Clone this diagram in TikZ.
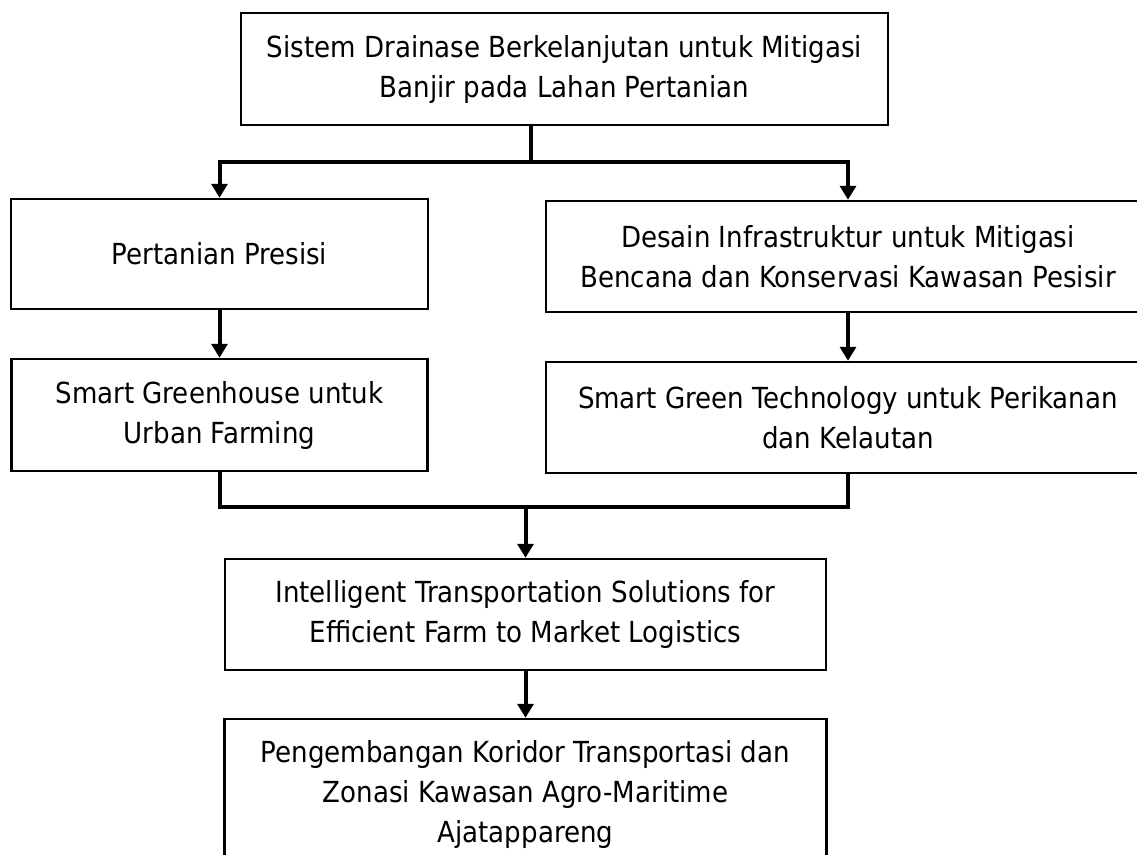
\documentclass[tikz,border=0pt]{standalone}
\usepackage{fontspec}
\setmainfont{DejaVu Sans Condensed}
\usetikzlibrary{arrows.meta}
\tikzset{
  box/.style={draw=black, line width=2.5pt, fill=white, rectangle, inner sep=0pt,
    align=center, font=\fontsize{29}{40}\selectfont, text=black},
  conn/.style={draw=black, line width=4pt},
  arr/.style={conn, -{Triangle[length=14pt,width=16pt]}},
}
\begin{document}
\begin{tikzpicture}[x=1pt,y=-1pt]
\useasboundingbox[fill=white] (0,0) rectangle (1137,854);
\node[box, minimum width=647pt, minimum height=112pt] (top) at (564.5,69)
  {Sistem Drainase Berkelanjutan untuk Mitigasi\\Banjir pada Lahan Pertanian};
\node[box, minimum width=417pt, minimum height=110pt] (l1) at (219.5,254)
  {Pertanian Presisi};
\node[box, minimum width=604pt, minimum height=111pt] (r1) at (848,256.5)
  {Desain Infrastruktur untuk Mitigasi\\Bencana dan Konservasi Kawasan Pesisir};
\node[box, minimum width=416pt, minimum height=112pt] (l2) at (219.5,415)
  {Smart Greenhouse untuk\\Urban Farming};
\node[box, minimum width=604pt, minimum height=111pt] (r2) at (848,417.5)
  {Smart Green Technology untuk Perikanan\\dan Kelautan};
\node[box, minimum width=601pt, minimum height=111pt] (b4) at (525.5,614.5)
  {Intelligent Transportation Solutions for\\Efficient Farm to Market Logistics};
\node[box, minimum width=602pt, minimum height=151pt] (b5) at (525.5,794.5)
  {Pengembangan Koridor Transportasi dan\\Zonasi Kawasan Agro-Maritime\\Ajatappareng};
\coordinate (j1) at (531,162);
\coordinate (j2) at (525.5,507);
\draw[conn] (j1 |- top.south) -- (j1);
\draw[arr] (j1) -| (l1.north);
\draw[arr] (j1) -| (r1.north);
\draw[arr] (l1.south) -- (l2.north);
\draw[arr] (r1.south) -- (r2.north);
\draw[conn] (l2.south) |- (j2) -| (r2.south);
\draw[arr] (j2) -- (b4.north);
\draw[arr] (b4.south) -- (b5.north);
\end{tikzpicture}
\end{document}
